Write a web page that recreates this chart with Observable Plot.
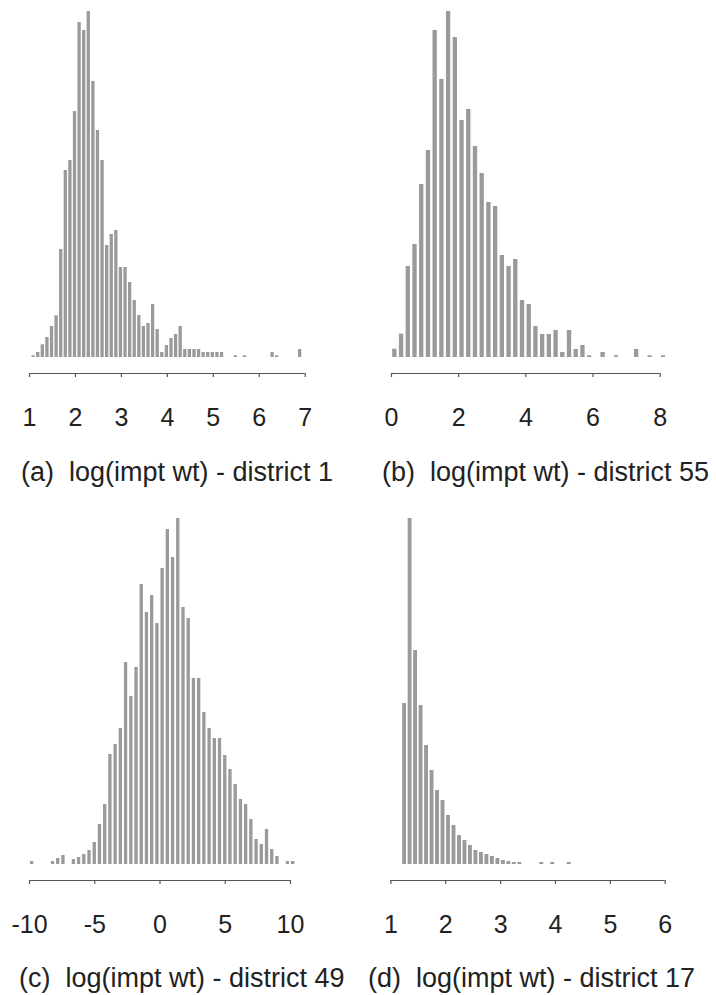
<!DOCTYPE html>
<html><head><meta charset="utf-8">
<script src="https://cdn.jsdelivr.net/npm/d3@7"></script>
<script src="https://cdn.jsdelivr.net/npm/@observablehq/plot@0.6"></script>
<style>
body{margin:0;background:#fff;}
#root{position:relative;width:716px;height:995px;overflow:hidden;font-family:"Liberation Sans",Arial,Helvetica,sans-serif;}
.panel{position:absolute;}
.title{position:absolute;font-size:27px;line-height:1;color:#222;white-space:pre;}
</style></head><body><div id="root"></div>
<script>
// ---- data (bin left edges, bin heights) ----
const aEdges = [1.04,1.14,1.24,1.34,1.44,1.54,1.64,1.74,1.84,1.94,2.04,2.14,2.24,2.34,2.44,2.54,2.64,2.74,2.84,2.94,3.04,3.14,3.24,3.34,3.44,3.54,3.64,3.74,3.84,3.94,4.04,4.14,4.24,4.34,4.44,4.54,4.64,4.74,4.84,4.94,5.04,5.14,5.24,5.34,5.44,5.54,5.64,5.74,5.84,5.94,6.04,6.14,6.24,6.34,6.44,6.54,6.64,6.74,6.84];
const aCounts = [1.7,5,12.7,20,31,41.7,108,187,197,246,335,327,346,276,227,197,112,123,127,90,90,75,57,42,31,34,53,28,5,12,19,23,31,8,8,8,8,5,5,5,5,5,0,0,1.7,0,1.7,0,0,0,0,0,5,1.7,0,0,0,0,8];
const aTicks = [1,2,3,4,5,6,7];
const aTitle = "(a)  log(impt wt) - district 1";

const bEdges = [0,0.2,0.4,0.6,0.8,1,1.2,1.4,1.6,1.8,2,2.2,2.4,2.6,2.8,3,3.2,3.4,3.6,3.8,4,4.2,4.4,4.6,4.8,5,5.2,5.4,5.6,5.8,6,6.2,6.4,6.6,6.8,7,7.2,7.4,7.6,7.8,8];
const bCounts = [8.3,23.3,91,113,173,207,327,278,346,320,237,248,211,184,155,151,102,91,98,57,53,31,23,23,27,5,27,8,12,1.7,0,5,0,1.7,0,0,8,0,1.7,0,1.7];
const bTicks = [0,2,4,6,8];
const bTitle = "(b)  log(impt wt) - district 55";

const cEdges = [-10,-9.6,-9.2,-8.8,-8.4,-8,-7.6,-7.2,-6.8,-6.4,-6,-5.6,-5.2,-4.8,-4.4,-4,-3.6,-3.2,-2.8,-2.4,-2,-1.6,-1.2,-0.8,-0.4,0,0.4,0.8,1.2,1.6,2,2.4,2.8,3.2,3.6,4,4.4,4.8,5.2,5.6,6,6.4,6.8,7.2,7.6,8,8.4,8.8,9.2,9.6,10];
const cCounts = [3,0,0,0,3,6,9,0,5,7,10,14,22,40,60,110,120,136,202,168,197,280,252,269,241,296,335,307,346,257,246,186,186,152,136,126,126,109,95,80,65,60,45,25,20,35,15,8,0,3,3];
const cTicks = [-10,-5,0,5,10];
const cTitle = "(c)  log(impt wt) - district 49";

const dEdges = [1.2,1.3,1.4,1.5,1.6,1.7,1.8,1.9,2,2.1,2.2,2.3,2.4,2.5,2.6,2.7,2.8,2.9,3,3.1,3.2,3.3,3.4,3.5,3.6,3.7,3.8,3.9,4,4.1,4.2];
const dCounts = [161,346,214,159,119,94,74,64,49,39,29,24,19,14,12,10,8,6,4,3,2,2,0,0,0,2,0,2,0,0,2];
const dTicks = [1,2,3,4,5,6];
const dTitle = "(d)  log(impt wt) - district 17";

const root = document.getElementById("root");

function panel({edges, counts, binW, ticks, left, top, mLeft, mRight, inset, title, titleLeft, titleTop}) {
  const rows = edges.map((e, i) => ({x1: e, x2: e + binW, n: counts[i]})).filter(d => d.n > 0);
  const chart = Plot.plot({
    width: 358, height: 440,
    marginTop: 11, marginBottom: 83, marginLeft: mLeft, marginRight: mRight,
    style: {background: "transparent", fontFamily: '"Liberation Sans", Arial, Helvetica, sans-serif', color: "#222"},
    x: {domain: [ticks[0], ticks[ticks.length - 1]], axis: null},
    y: {domain: [0, d3.max(counts)], axis: null},
    marks: [
      Plot.rectY(rows, {x1: "x1", x2: "x2", y: "n", fill: "#9a9a9a", insetLeft: inset, insetRight: inset}),
      Plot.ruleY([0], {x1: ticks[0], x2: ticks[ticks.length - 1], dy: 16, stroke: "#555", strokeWidth: 1.2}),
      Plot.axisX({ticks, tickFormat: d => String(d), tickSize: 4, tickPadding: 31, dy: 16, fontSize: 25, stroke: "#555", fill: "#222", strokeWidth: 1.2})
    ]
  });
  const wrap = document.createElement("div");
  wrap.className = "panel";
  wrap.style.left = left + "px";
  wrap.style.top = top + "px";
  wrap.appendChild(chart);
  root.appendChild(wrap);
  const t = document.createElement("div");
  t.className = "title";
  t.textContent = title;
  t.style.left = titleLeft + "px";
  t.style.top = titleTop + "px";
  root.appendChild(t);
}

panel({edges: aEdges, counts: aCounts, binW: 0.1, ticks: aTicks, left: 0, top: 0, mLeft: 29, mRight: 53.3, inset: 0.65, title: aTitle, titleLeft: 21, titleTop: 459});
panel({edges: bEdges, counts: bCounts, binW: 0.2, ticks: bTicks, left: 358, top: 0, mLeft: 33, mRight: 56.3, inset: 1.2, title: bTitle, titleLeft: 382, titleTop: 459});
panel({edges: cEdges, counts: cCounts, binW: 0.4, ticks: cTicks, left: 0, top: 507, mLeft: 29, mRight: 68, inset: 0.95, title: cTitle, titleLeft: 19, titleTop: 965});
panel({edges: dEdges, counts: dCounts, binW: 0.1, ticks: dTicks, left: 358, top: 507, mLeft: 32.4, mRight: 51.3, inset: 0.8, title: dTitle, titleLeft: 368, titleTop: 965});
</script></body></html>
